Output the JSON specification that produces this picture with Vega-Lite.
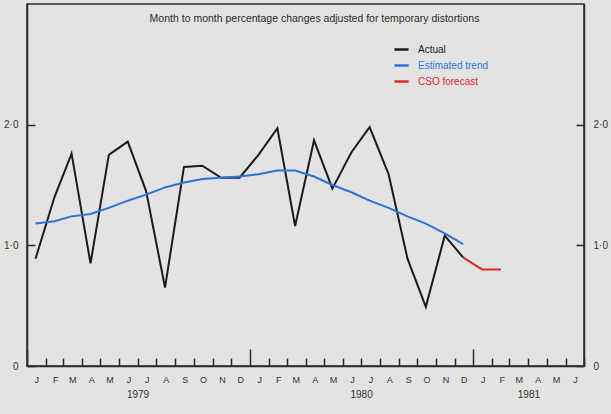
{
  "$schema": "https://vega.github.io/schema/vega-lite/v6.json",
  "width": 557,
  "height": 362,
  "autosize": "none",
  "padding": {"left": 27, "top": 4, "right": 27, "bottom": 48},
  "background": "#e3e3e1",
  "config": {
    "view": {"stroke": "#2a2a2a", "strokeWidth": 1.5},
    "font": "Liberation Sans",
    "axis": {"domainColor": "#2a2a2a", "domainWidth": 1.5, "tickColor": "#2a2a2a", "tickWidth": 1.5, "labelColor": "#333333", "grid": false, "title": null}
  },
  "title": {
    "text": "Month to month percentage changes adjusted for temporary distortions",
    "fontSize": 10.5,
    "fontWeight": "normal",
    "color": "#2b2b2b",
    "anchor": "middle",
    "dx": 9,
    "offset": -20
  },
  "data": {
    "values": [
      {"date": "1979-01-15", "actual": 0.89, "trend": 1.18, "forecast": null},
      {"date": "1979-02-15", "actual": 1.40, "trend": 1.20, "forecast": null},
      {"date": "1979-03-15", "actual": 1.76, "trend": 1.24, "forecast": null},
      {"date": "1979-04-15", "actual": 0.85, "trend": 1.26, "forecast": null},
      {"date": "1979-05-15", "actual": 1.75, "trend": 1.31, "forecast": null},
      {"date": "1979-06-15", "actual": 1.86, "trend": 1.37, "forecast": null},
      {"date": "1979-07-15", "actual": 1.45, "trend": 1.42, "forecast": null},
      {"date": "1979-08-15", "actual": 0.65, "trend": 1.48, "forecast": null},
      {"date": "1979-09-15", "actual": 1.65, "trend": 1.52, "forecast": null},
      {"date": "1979-10-15", "actual": 1.66, "trend": 1.55, "forecast": null},
      {"date": "1979-11-15", "actual": 1.56, "trend": 1.56, "forecast": null},
      {"date": "1979-12-15", "actual": 1.56, "trend": 1.57, "forecast": null},
      {"date": "1980-01-15", "actual": 1.75, "trend": 1.59, "forecast": null},
      {"date": "1980-02-15", "actual": 1.97, "trend": 1.62, "forecast": null},
      {"date": "1980-03-15", "actual": 1.16, "trend": 1.62, "forecast": null},
      {"date": "1980-04-15", "actual": 1.87, "trend": 1.57, "forecast": null},
      {"date": "1980-05-15", "actual": 1.47, "trend": 1.50, "forecast": null},
      {"date": "1980-06-15", "actual": 1.77, "trend": 1.44, "forecast": null},
      {"date": "1980-07-15", "actual": 1.98, "trend": 1.37, "forecast": null},
      {"date": "1980-08-15", "actual": 1.59, "trend": 1.31, "forecast": null},
      {"date": "1980-09-15", "actual": 0.89, "trend": 1.24, "forecast": null},
      {"date": "1980-10-15", "actual": 0.49, "trend": 1.18, "forecast": null},
      {"date": "1980-11-15", "actual": 1.08, "trend": 1.10, "forecast": null},
      {"date": "1980-12-15", "actual": 0.90, "trend": 1.01, "forecast": 0.90},
      {"date": "1981-01-15", "actual": null, "trend": null, "forecast": 0.80},
      {"date": "1981-02-15", "actual": null, "trend": null, "forecast": 0.80}
    ]
  },
  "transform": [
    {"fold": ["actual", "trend", "forecast"], "as": ["series", "value"]},
    {"filter": "datum.value != null"}
  ],
  "layer": [
    {
      "mark": {"type": "line", "strokeWidth": 2},
      "encoding": {
        "x": {
          "field": "date",
          "type": "temporal",
          "scale": {"type": "utc", "domain": [{"year": 1979, "month": 1, "date": 1, "utc": true}, {"year": 1981, "month": 7, "date": 1, "utc": true}]},
          "axis": {
            "orient": "bottom",
            "tickCount": {"interval": "month", "step": 1},
            "tickSize": {"condition": {"test": "utcmonth(datum.value) == 0", "value": -17}, "value": -8},
            "labelPadding": {"condition": {"test": "utcmonth(datum.value) == 0", "value": 26}, "value": 17},
            "labelOffset": 9.3,
            "labelFontSize": 9,
            "labelFlush": false,
            "labelOverlap": false,
            "labelExpr": "utcyear(datum.value) == 1981 && utcmonth(datum.value) == 6 ? '' : substring(utcFormat(datum.value, '%b'), 0, 1)"
          }
        },
        "y": {
          "field": "value",
          "type": "quantitative",
          "scale": {"domain": [0, 3], "nice": false},
          "axis": {
            "orient": "left",
            "values": [0, 1, 2],
            "tickSize": -8,
            "labelPadding": 17,
            "labelFontSize": 10,
            "labelExpr": "datum.value == 0 ? '0' : replace(format(datum.value, '.1f'), '.', '·')"
          }
        },
        "color": {
          "field": "series",
          "type": "nominal",
          "scale": {"domain": ["actual", "trend", "forecast"], "range": ["#1b1b1b", "#2b73d9", "#e0262f"]},
          "legend": {
            "title": null,
            "orient": "none",
            "legendX": 366,
            "legendY": 37,
            "symbolType": "stroke",
            "symbolStrokeWidth": 2.5,
            "symbolSize": 200,
            "labelFontSize": 10,
            "labelOffset": 8,
            "rowPadding": 2,
            "labelExpr": "datum.label == 'actual' ? 'Actual' : datum.label == 'trend' ? 'Estimated trend' : 'CSO forecast'",
            "encode": {"labels": {"update": {"fill": {"scale": "color", "field": "value"}}}}
          }
        }
      }
    },
    {
      "mark": {"type": "point", "opacity": 0},
      "encoding": {
        "x": {
          "field": "date",
          "type": "temporal",
          "axis": {
            "orient": "bottom",
            "values": [
              {"year": 1979, "month": 7, "date": 1, "utc": true},
              {"year": 1980, "month": 7, "date": 1, "utc": true},
              {"year": 1981, "month": 4, "date": 1, "utc": true}
            ],
            "ticks": false,
            "domain": false,
            "labelPadding": 23,
            "labelFontSize": 10,
            "labelFlush": false,
            "labelExpr": "utcFormat(datum.value, '%Y')"
          }
        },
        "y": {
          "field": "value",
          "type": "quantitative",
          "axis": {
            "orient": "right",
            "values": [0, 1, 2],
            "tickSize": -8,
            "labelPadding": 17,
            "labelFontSize": 10,
            "labelExpr": "datum.value == 0 ? '0' : replace(format(datum.value, '.1f'), '.', '·')"
          }
        }
      }
    }
  ],
  "resolve": {"axis": {"x": "independent", "y": "independent"}}
}
